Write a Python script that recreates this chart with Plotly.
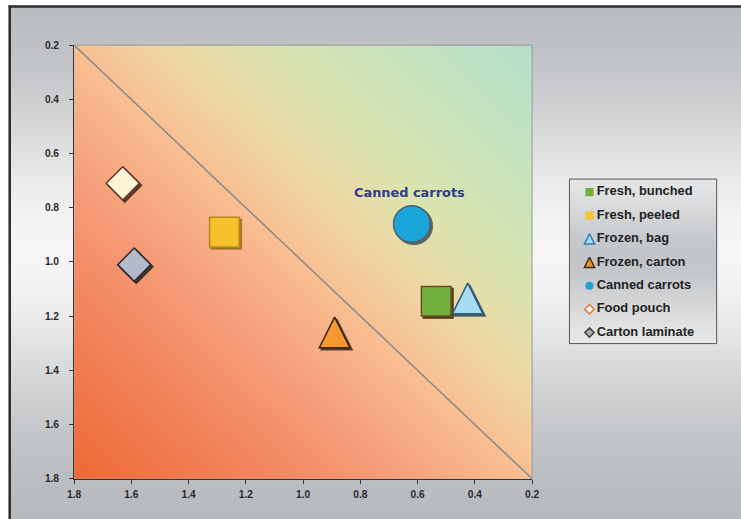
import numpy as np
import plotly.graph_objects as go

# ---- data -------------------------------------------------------------
categories = ["Fresh, bunched", "Fresh, peeled", "Frozen, bag", "Frozen, carton",
              "Canned carrots", "Food pouch", "Carton laminate"]
x_values = [0.535, 1.275, 0.425, 0.89, 0.62, 1.63, 1.59]
y_values = [1.145, 0.89, 1.135, 1.26, 0.86, 0.71, 1.01]

tick_values = [0.2, 0.4, 0.6, 0.8, 1.0, 1.2, 1.4, 1.6, 1.8]
tick_labels = ["0.2", "0.4", "0.6", "0.8", "1.0", "1.2", "1.4", "1.6", "1.8"]

# parity line across the square
diag_x = [1.8, 0.2]
diag_y = [0.2, 1.8]

label_series = "Canned carrots"

# ---- styles -----------------------------------------------------------
fill_colors = ["#72B23C", "#F7C22C", "#A9DCF2", "#F4982F", "#1BA6DA", "#FBF5D6", "#B3BBCB"]
line_colors = ["#6A4A1E", "#B38A1A", "#2D5C7C", "#3A2210", "#4E5E6C", "#5A3A2A", "#2A2A2A"]
shadow_colors = ["rgba(70,45,15,0.75)", "rgba(150,110,20,0.75)", "rgba(30,60,90,0.7)",
                 "rgba(60,30,10,0.7)", "rgba(70,80,90,0.75)", "rgba(60,35,20,0.75)",
                 "rgba(30,30,30,0.75)"]
kinds = ["square", "square", "tri", "tri", "circle", "diamond", "diamond"]
big_sizes = {"square": 29.6, "tri": 30.6, "circle": 36.7, "diamond": 25.5}

leg_fill = ["#6FAE3F", "#F5C431", "#A8DCF0", "#F09030", "#1FA5CE", "#FFFFFF", "#A9A9A9"]
leg_line = ["#6FAE3F", "#F5C431", "#2F80C0", "#3A2A1A", "#1FA5CE", "#E07A3A", "#444444"]
leg_lw = [0, 0, 1.5, 1.5, 0, 1.5, 1.5]
leg_sizes = {"square": 8.2, "tri": 10.2, "circle": 8.2, "diamond": 7.2}

# page placement of the figure: page px = A + S * figure px
AX, SX = 6.3, 0.98
AY, SY = 5.5, 0.976
W = int(np.ceil((741 - AX) / SX))
H = int(np.ceil((519 - AY) / SY))


def fx(px):
    return ((px - AX) / SX) / W


def fy(py):
    return 1 - ((py - AY) / SY) / H


px_l, px_r, px_t, px_b = 73.3, 530.7, 45.5, 477.7
dom_x = [fx(px_l), fx(px_r)]
dom_y = [fy(px_b), fy(px_t)]
# drop-shadow copy of the plot area, nudged right and down
sh = 2.0
dom_x_sh = [fx(px_l + sh), fx(px_r + sh)]
dom_y_sh = [fy(px_b + sh), fy(px_t + sh)]

lg_l, lg_r, lg_t, lg_b = 568, 715, 179, 343

fig = go.Figure()

# ---- page background (grey, brighter through the middle) ---------------
rows = np.linspace(AY, AY + SY * H, 60)
bright = np.exp(-((rows - 250) / 150.0) ** 2)
fig.add_trace(go.Heatmap(
    x=[0, 1], y=rows, z=np.column_stack([bright, bright]),
    colorscale=[[0, "#B5B8BB"], [1, "#F6F6F6"]], zmin=0, zmax=1,
    zsmooth="best", showscale=False, hoverinfo="skip",
    xaxis="x", yaxis="y"))

# ---- plot area gradient ----------------------------------------------
g = np.linspace(0.2, 1.8, 81)
U = (1.8 - g) / 1.6
V = (1.8 - g) / 1.6
Z = (U[None, :] + V[:, None]) / 2.0
fig.add_trace(go.Heatmap(
    x=g, y=g, z=Z, zmin=0, zmax=1, zsmooth="best", showscale=False, hoverinfo="skip",
    colorscale=[[0, "#EE6935"], [0.2, "#F2845C"], [0.35, "#F59E7A"], [0.5, "#F8C092"],
                [0.6, "#EDD8A4"], [0.7, "#DCE4AE"], [0.85, "#C6E3BE"], [1, "#B4DECB"]],
    xaxis="x2", yaxis="y2"))

fig.add_trace(go.Scatter(x=diag_x, y=diag_y, mode="lines",
                         line=dict(color="#8C8C8C", width=1.6),
                         hoverinfo="skip", showlegend=False, xaxis="x2", yaxis="y2"))


def marker_spec(kind, size, fill, line, lw):
    if kind == "tri":
        # isosceles triangle centred on the point
        return dict(symbol="arrow-down", angle=180, standoff=size / 2, size=size,
                    color=fill, line=dict(color=line, width=lw))
    return dict(symbol=kind, size=size, color=fill, line=dict(color=line, width=lw))


# ---- legend panel ----------------------------------------------------
lrows = np.linspace(-0.6, 6.5, 40)
lb = np.exp(-((lrows - 2.8) / 2.6) ** 2)
fig.add_trace(go.Heatmap(
    x=[0, 1], y=lrows, z=np.column_stack([lb, lb]),
    colorscale=[[0, "#EDEDED"], [1, "#C3C6C9"]], zmin=0, zmax=1,
    zsmooth="best", showscale=False, hoverinfo="skip",
    xaxis="x3", yaxis="y3"))

for i, name in enumerate(categories):
    k = kinds[i]
    fig.add_trace(go.Scatter(
        x=[0.136], y=[i], mode="markers",
        marker=marker_spec(k, leg_sizes[k], leg_fill[i], leg_line[i], leg_lw[i]),
        hoverinfo="skip", showlegend=False, xaxis="x3", yaxis="y3"))

fig.add_trace(go.Scatter(
    x=[0.185] * len(categories), y=list(range(len(categories))), mode="text",
    text=categories, textposition="middle right",
    textfont=dict(family="Arial, Liberation Sans", size=12.9, color="#222222", weight="bold"),
    hoverinfo="skip", showlegend=False, xaxis="x3", yaxis="y3"))

# ---- marker shadows, then the markers themselves -----------------------
for i, name in enumerate(categories):
    k = kinds[i]
    fig.add_trace(go.Scatter(
        x=[x_values[i]], y=[y_values[i]], mode="markers",
        marker=marker_spec(k, big_sizes[k], shadow_colors[i], shadow_colors[i], 1.8),
        hoverinfo="skip", showlegend=False, xaxis="x4", yaxis="y4"))

for i, name in enumerate(categories):
    k = kinds[i]
    fig.add_trace(go.Scatter(
        x=[x_values[i]], y=[y_values[i]], mode="markers", name=name,
        marker=marker_spec(k, big_sizes[k], fill_colors[i], line_colors[i], 1.5),
        showlegend=False, xaxis="x5", yaxis="y5"))

# ---- label for one series --------------------------------------------
li = categories.index(label_series)
fig.add_annotation(x=x_values[li], y=y_values[li], xref="x5", yref="y5",
                   text=label_series, showarrow=False, xshift=-2.5, yshift=31.6,
                   font=dict(family="DejaVu Sans", size=12.9, color="#2D3D8F", weight="bold"))

axis_font = dict(family="Arial, Liberation Sans", size=10.2, color="#2A2A2A", weight="bold")
hidden = dict(visible=False, showgrid=False, zeroline=False, fixedrange=True)

fig.update_layout(
    width=W, height=H, margin=dict(l=0, r=0, t=0, b=0),
    paper_bgcolor="white", plot_bgcolor="rgba(0,0,0,0)", showlegend=False,
    xaxis=dict(hidden, domain=[fx(9), 1], range=[0, 1]),
    yaxis=dict(hidden, domain=[0, fy(7)], range=[AY + SY * H, 7]),
    xaxis2=dict(domain=dom_x, range=[1.8, 0.2], tickvals=tick_values, ticktext=tick_labels,
                showgrid=False, zeroline=False, showline=True, linecolor="#333333", linewidth=1,
                ticks="outside", ticklen=4, tickcolor="#333333", tickfont=axis_font,
                ticklabelstandoff=2, anchor="y2", fixedrange=True),
    yaxis2=dict(domain=dom_y, range=[1.8, 0.2], tickvals=tick_values, ticktext=tick_labels,
                showgrid=False, zeroline=False, showline=True, linecolor="#333333", linewidth=1,
                ticks="outside", ticklen=4, tickcolor="#333333", tickfont=axis_font,
                ticklabelstandoff=8, anchor="x2", fixedrange=True),
    xaxis3=dict(hidden, domain=[fx(lg_l), fx(lg_r)], range=[0, 1], anchor="y3"),
    yaxis3=dict(hidden, domain=[fy(lg_b), fy(lg_t)], range=[6.47, -0.56], anchor="x3"),
    xaxis4=dict(hidden, domain=dom_x_sh, range=[1.8, 0.2], anchor="y4"),
    yaxis4=dict(hidden, domain=dom_y_sh, range=[1.8, 0.2], anchor="x4"),
    xaxis5=dict(hidden, domain=dom_x, range=[1.8, 0.2], anchor="y5"),
    yaxis5=dict(hidden, domain=dom_y, range=[1.8, 0.2], anchor="x5"),
    shapes=[
        # frame edges of the plot area (top and right)
        dict(type="line", xref="paper", yref="paper", x0=dom_x[0], x1=dom_x[1],
             y0=dom_y[1], y1=dom_y[1], line=dict(color="#9A9A9A", width=1)),
        dict(type="line", xref="paper", yref="paper", x0=dom_x[1], x1=dom_x[1],
             y0=dom_y[0], y1=dom_y[1], line=dict(color="#9A9A9A", width=1)),
        # legend border
        dict(type="rect", xref="paper", yref="paper", x0=fx(lg_l), x1=fx(lg_r),
             y0=fy(lg_b), y1=fy(lg_t), line=dict(color="#555555", width=1)),
        # page frame (top and left)
        dict(type="line", xref="paper", yref="paper", x0=fx(8), x1=1,
             y0=fy(7), y1=fy(7), line=dict(color="#2A2A2A", width=2.5)),
        dict(type="line", xref="paper", yref="paper", x0=fx(9), x1=fx(9),
             y0=0, y1=fy(6), line=dict(color="#2A2A2A", width=2.5)),
    ],
)

fig.write_html("out.html")
